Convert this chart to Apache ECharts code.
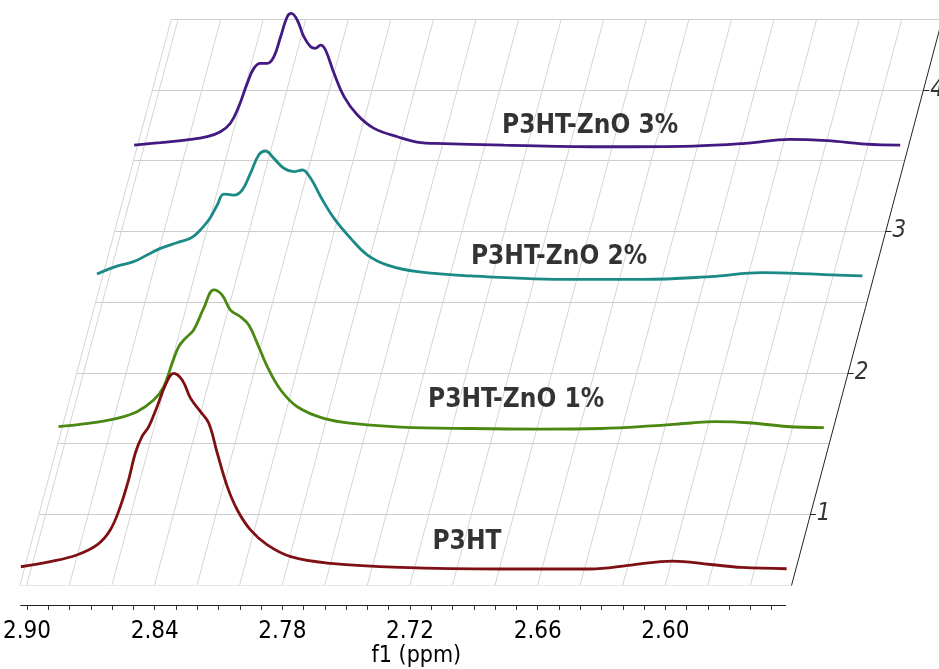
<!DOCTYPE html>
<html><head><meta charset="utf-8">
<script src="https://cdn.jsdelivr.net/npm/echarts@6/dist/echarts.min.js"></script>
<style>html,body{margin:0;padding:0;background:#fff}#c{width:939px;height:669px}</style>
</head><body><div id="c"></div>
<script>
// ---------- data ----------
const seriesNames = ['P3HT', 'P3HT-ZnO 1%', 'P3HT-ZnO 2%', 'P3HT-ZnO 3%'];

const p3htPpm = [2.9028, 2.8890, 2.8765, 2.8670, 2.8608, 2.8561, 2.8522, 2.8490, 2.8459, 2.8427, 2.8388, 2.8349, 2.8310, 2.8270, 2.8231, 2.8184, 2.8145, 2.8105, 2.8058, 2.8011, 2.7949, 2.7870, 2.7760, 2.7572, 2.7242, 2.6771, 2.6353, 2.6160, 2.5967, 2.5788, 2.5642, 2.5430];
const p3htInt = [0.009, 0.045, 0.092, 0.163, 0.269, 0.433, 0.622, 0.813, 0.928, 0.999, 1.140, 1.293, 1.376, 1.329, 1.201, 1.105, 1.023, 0.811, 0.575, 0.410, 0.269, 0.163, 0.080, 0.033, 0.004, -0.007, -0.007, 0.021, 0.049, 0.025, 0.004, -0.005];

const zno1Ppm = [2.9029, 2.8911, 2.8754, 2.8660, 2.8582, 2.8535, 2.8495, 2.8464, 2.8433, 2.8394, 2.8347, 2.8299, 2.8260, 2.8221, 2.8174, 2.8135, 2.8095, 2.8048, 2.7985, 2.7907, 2.7782, 2.7624, 2.7420, 2.7091, 2.6761, 2.6479, 2.6243, 2.6055, 2.5946, 2.5772, 2.5607, 2.5433];
const zno1Int = [-0.001, 0.018, 0.058, 0.105, 0.187, 0.281, 0.447, 0.564, 0.623, 0.682, 0.835, 0.965, 0.929, 0.823, 0.776, 0.717, 0.588, 0.423, 0.258, 0.140, 0.058, 0.018, -0.004, -0.014, -0.018, -0.014, 0.004, 0.025, 0.034, 0.025, 0.000, -0.008];

const zno2Ppm = [2.9026, 2.8932, 2.8854, 2.8791, 2.8728, 2.8650, 2.8587, 2.8548, 2.8501, 2.8461, 2.8430, 2.8383, 2.8344, 2.8305, 2.8266, 2.8234, 2.8195, 2.8148, 2.8101, 2.8061, 2.8022, 2.7975, 2.7912, 2.7834, 2.7755, 2.7661, 2.7520, 2.7269, 2.6790, 2.6466, 2.6144, 2.5900, 2.5739, 2.5576, 2.5430];
const zno2Int = [0.078, 0.134, 0.165, 0.212, 0.259, 0.299, 0.330, 0.377, 0.459, 0.565, 0.643, 0.636, 0.671, 0.789, 0.919, 0.947, 0.895, 0.825, 0.801, 0.813, 0.754, 0.624, 0.471, 0.330, 0.212, 0.141, 0.094, 0.064, 0.040, 0.040, 0.059, 0.087, 0.083, 0.071, 0.064];

const zno3Ppm = [2.9029, 2.8906, 2.8781, 2.8686, 2.8624, 2.8577, 2.8538, 2.8498, 2.8467, 2.8436, 2.8404, 2.8373, 2.8341, 2.8310, 2.8291, 2.8263, 2.8232, 2.8200, 2.8177, 2.8153, 2.8130, 2.8090, 2.8043, 2.7980, 2.7902, 2.7792, 2.7682, 2.7614, 2.7291, 2.6807, 2.6402, 2.6159, 2.5948, 2.5771, 2.5592, 2.5430];
const zno3Int = [-0.011, 0.006, 0.025, 0.048, 0.083, 0.143, 0.260, 0.425, 0.531, 0.567, 0.567, 0.613, 0.755, 0.896, 0.920, 0.873, 0.755, 0.684, 0.673, 0.696, 0.661, 0.496, 0.331, 0.201, 0.107, 0.048, 0.006, 0.001, -0.011, -0.023, -0.018, 0.001, 0.030, 0.020, -0.004, -0.011];

const xTickLabels = ['2.90', '2.84', '2.78', '2.72', '2.66', '2.60'];
const xTickMin = 2.55, xTickMax = 2.90, xTickStep = 0.01;
const depthTickLabels = [1, 2, 3, 4];
const slantGridPpm = [2.90, 2.88, 2.86, 2.84, 2.82, 2.80, 2.78, 2.76, 2.74, 2.72, 2.70, 2.68, 2.66, 2.64, 2.62, 2.60, 2.58, 2.56];
const depthGrid = [0.5, 1.0, 1.5, 2.0, 2.5, 3.0, 3.5, 4.0, 4.5];

// ---------- geometry of the oblique stack ----------
const PPM_LEFT = 2.9032, PPM_RIGHT = 2.5433, EDGE_RIGHT = 2.541;
const PX_PER_PPM = 766 / (PPM_LEFT - PPM_RIGHT);
const AX_LEFT = 20, PLOT_W = 919;
const PLOT_MIN = PPM_LEFT - PLOT_W / PX_PER_PPM;
const SLANT = 0.017783;      // ppm shift per depth unit
const DEPTH0 = 0.5, DEPTH1 = 4.5;
const BASE0 = 0.62;          // baseline depth of first trace
const colors = ['#7e1014', '#4a8812', '#1b8a86', '#431a82'];
const FONT = "'DejaVu Sans Condensed', 'DejaVu Sans', sans-serif";

const traces = [[p3htPpm, p3htInt], [zno1Ppm, zno1Int], [zno2Ppm, zno2Int], [zno3Ppm, zno3Int]];
const shiftAt = d => (d - DEPTH0) * SLANT;

const hLines = depthGrid.map(d => ({coords: [[PPM_LEFT - shiftAt(d), d], [EDGE_RIGHT - shiftAt(d), d]]}));
const sLines = [PPM_LEFT].concat(slantGridPpm).map(p => ({coords: [[p, DEPTH0], [p - shiftAt(DEPTH1), DEPTH1]]}));
const tickLen = 6 / PX_PER_PPM;
const rTicks = depthTickLabels.map(d => ({coords: [[EDGE_RIGHT - shiftAt(d), d], [EDGE_RIGHT - shiftAt(d) - tickLen, d]]}));

// trace label anchors: [ppm on own trace, lift above own baseline]
const labelAnchor = [[2.6932, 0.184], [2.6879, 0.187], [2.6855, 0.198], [2.6887, 0.124]];

const series = [
  {type: 'lines', coordinateSystem: 'cartesian2d', xAxisIndex: 1, yAxisIndex: 1, z: 1, silent: true,
   lineStyle: {color: '#cdcdcd', width: 1, opacity: 1}, data: hLines},
  {type: 'lines', coordinateSystem: 'cartesian2d', xAxisIndex: 1, yAxisIndex: 1, z: 1, silent: true,
   lineStyle: {color: '#d4d4d4', width: 1, opacity: 1}, data: sLines},
  {type: 'lines', coordinateSystem: 'cartesian2d', xAxisIndex: 1, yAxisIndex: 1, z: 2, silent: true,
   lineStyle: {color: '#222', width: 1, opacity: 1},
   data: [{coords: [[EDGE_RIGHT, DEPTH0 - 0.02], [EDGE_RIGHT - shiftAt(4.65), 4.65]]}].concat(rTicks)},
  {type: 'scatter', xAxisIndex: 1, yAxisIndex: 1, symbolSize: 0, z: 2, silent: true,
   data: depthTickLabels.map(d => ({value: [EDGE_RIGHT - shiftAt(d) - tickLen, d], name: String(d)})),
   label: {show: true, position: 'right', distance: 1, formatter: p => p.name, fontSize: 24, fontStyle: 'italic',
           color: '#000', fontFamily: FONT}},
  // front ppm axis line (full width of the front edge)
  {type: 'lines', coordinateSystem: 'cartesian2d', xAxisIndex: 0, yAxisIndex: 0, z: 2, silent: true, clip: false,
   lineStyle: {color: '#222', width: 1, opacity: 1},
   data: [{coords: [[PPM_LEFT, 0], [PPM_RIGHT, 0]]}]}
];

for (let k = traces.length - 1; k >= 0; k--) {
  const [ppm, inten] = traces[k];
  const base = BASE0 + k;
  series.push({
    name: seriesNames[k], type: 'line', xAxisIndex: 1, yAxisIndex: 1, z: 3 + (traces.length - k),
    showSymbol: false, smooth: 0.4, clip: false, silent: true,
    lineStyle: {color: colors[k], width: 2.8},
    data: ppm.map((p, i) => [p - k * SLANT, base + inten[i]])
  });
}
series.push({
  type: 'scatter', xAxisIndex: 1, yAxisIndex: 1, symbolSize: 0, z: 10, silent: true,
  data: labelAnchor.map((a, k) => ({value: [a[0] - k * SLANT, BASE0 + k + a[1]], name: seriesNames[k]})),
  label: {show: true, position: 'inside', formatter: p => p.name, fontSize: 26, fontWeight: 'bold',
          color: '#000', fontFamily: FONT}
});

const tickGridLeft = AX_LEFT + (PPM_LEFT - xTickMax) * PX_PER_PPM;
const tickGridW = (xTickMax - xTickMin) * PX_PER_PPM;

const chart = echarts.init(document.getElementById('c'), null, {renderer: 'canvas'});
chart.setOption({
  animation: false,
  backgroundColor: '#fff',
  grid: [
    {left: tickGridLeft, width: tickGridW, top: 600, height: 7},
    {left: AX_LEFT, width: PLOT_W, top: 19, height: 566}
  ],
  xAxis: [
    {gridIndex: 0, type: 'value', inverse: true, min: xTickMin, max: xTickMax, interval: xTickStep,
     axisLine: {show: false},
     axisTick: {show: true, interval: 0, length: 5, lineStyle: {color: '#333'}},
     axisLabel: {show: true, interval: 0, showMinLabel: true, showMaxLabel: true, hideOverlap: false,
                 formatter: v => (xTickLabels.indexOf(v.toFixed(2)) >= 0 ? v.toFixed(2) : ''),
                 fontSize: 24, color: '#000', margin: 15, fontFamily: FONT},
     splitLine: {show: false},
     name: 'f1 (ppm)', nameLocation: 'middle', nameGap: 40,
     nameTextStyle: {fontSize: 23, color: '#000', fontFamily: FONT, padding: [0, 0, 0, 34]}},
    {gridIndex: 1, type: 'value', inverse: true, min: PLOT_MIN, max: PPM_LEFT, show: false}
  ],
  yAxis: [
    {gridIndex: 0, type: 'value', min: 0, max: 1, show: false},
    {gridIndex: 1, type: 'value', min: DEPTH0, max: DEPTH1, show: false}
  ],
  series: series
});
</script></body></html>
